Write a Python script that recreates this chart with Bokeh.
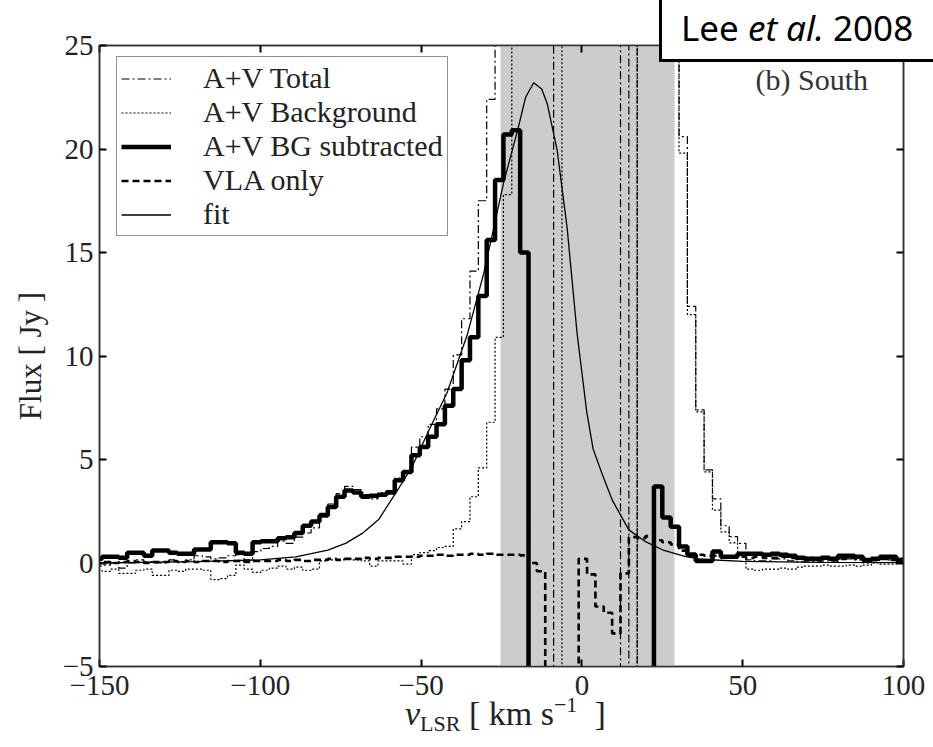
import numpy as np
from bokeh.plotting import figure
from bokeh.models import (Range1d, FixedTicker, LinearAxis, Label, BoxAnnotation,
                          Legend, LegendItem, GridBox, Div)
from bokeh.embed import file_html
from bokeh.resources import INLINE

# ---------------- data ----------------
# spectral channels: first channel left edge and channel width (km/s)
chan_first_edge = -151.8
chan_width = 2.6

# A+V BG subtracted (Jy); -30 marks masked channels that fall off the bottom
bg_subtracted = [
    0.2, 0.3, 0.3, 0.25, 0.5, 0.5, 0.35, 0.6, 0.6, 0.5,
    0.45, 0.45, 0.65, 0.65, 1.0, 1.0, 0.95, 0.5, 0.45, 1.0,
    1.05, 1.05, 1.2, 1.25, 1.45, 1.8, 2.0, 2.3, 2.7, 3.2,
    3.5, 3.4, 3.2, 3.25, 3.3, 3.4, 4.0, 4.4, 5.2, 5.6,
    6.1, 6.7, 7.6, 8.4, 9.8, 10.9, 12.9, 15.6, 18.5, 20.7,
    20.9, 15.0,
    -30, -30, -30, -30, -30, -30, -30, -30, -30, -30, -30, -30, -30, -30, -30,
    3.7, 2.2, 1.75, 0.8, 0.4, 0.1, 0.1, 0.55, 0.3, 0.3,
    0.45, 0.45, 0.45, 0.4, 0.45, 0.4, 0.35, 0.25, 0.2, 0.2,
    0.25, 0.2, 0.35, 0.35, 0.3, 0.15, 0.2, 0.3, 0.3, 0.15,
]

# A+V Background (Jy); +/-60 mark channels that run off the plot
background = [
    -0.35, -0.4, -0.3, -0.5, -0.5, -0.35, -0.3, -0.6, -0.6, -0.35,
    -0.4, -0.3, -0.3, -0.35, -0.8, -0.75, -0.6, -0.1, -0.3, -0.45,
    -0.35, -0.25, -0.15, -0.3, -0.2, -0.35, -0.3, 0.1, 0.15, 0.15,
    0.2, 0.15, 0.1, -0.15, 0.1, 0.1, 0.1, -0.05, 0.4, 0.5,
    0.6, 0.75, 0.8, 1.65, 2.0, 3.2, 4.6, 6.8, 10.9, 17.8,
    60, 60, 60, 60, 60, 60,
    -60, -60, -60, -60, -60, -60, -60, -60, -60,
    60, 60, 60, 60, 60,
    19.8, 12.0, 7.3, 4.4, 2.55, 1.5, 0.97, 0.5, -0.3, -0.35,
    -0.3, -0.3, -0.25, -0.3, -0.2, -0.15, -0.15, -0.1, -0.15, -0.15,
    -0.1, -0.15, -0.1, 0.0, -0.05, -0.05, 0.0,
]

# A+V Total (Jy)
total = [
    -0.15, -0.1, 0.0, -0.25, 0.0, 0.15, 0.05, 0.0, 0.0, 0.15,
    0.05, 0.15, 0.35, 0.3, 0.2, 0.25, 0.35, 0.4, 0.15, 0.55,
    0.7, 0.8, 1.05, 0.95, 1.25, 1.45, 1.7, 2.4, 2.85, 3.35,
    3.7, 3.55, 3.3, 3.1, 3.4, 3.5, 4.1, 4.35, 5.6, 6.1,
    6.7, 7.45, 8.4, 10.05, 11.8, 14.1, 17.5, 22.4,
    60, 60, 60, 60, 60, 60, 60,
    -60, -60, -60, -60, -60, -60, -60, -60,
    60, -60, 60, 60, 60, 60, 60,
    20.6, 12.4, 7.4, 4.5, 3.1, 1.8, 1.27, 0.95, 0.15, 0.1,
    0.1, 0.2, 0.2, 0.1, 0.05, 0.05, 0.05, 0.1, 0.05, 0.2,
    0.2, 0.15, 0.0, 0.1, 0.2, 0.15, 0.1,
]

# VLA only (Jy)
vla_only = [
    0.0, 0.05, 0.0, 0.05, 0.1, 0.05, 0.0, 0.05, 0.05, 0.1,
    0.05, 0.1, 0.05, 0.1, 0.1, 0.05, 0.1, 0.1, 0.05, 0.1,
    0.1, 0.1, 0.15, 0.1, 0.15, 0.1, 0.15, 0.15, 0.2, 0.15,
    0.2, 0.2, 0.25, 0.2, 0.25, 0.25, 0.3, 0.3, 0.3, 0.35,
    0.35, 0.4, 0.35, 0.4, 0.4, 0.45, 0.4, 0.45, 0.4, 0.4,
    0.4, 0.37,
    0.0, -0.4, -30, -30, -30, -30, 0.2, -0.55, -2.1, -2.4, -3.4, -0.5,
    1.25, 1.2, 1.3, 1.1, 1.0,
    0.9, 0.6, 0.45, 0.4, 0.35, 0.35, 0.3, 0.3, 0.3, 0.25,
    0.3, 0.25, 0.25, 0.3, 0.25, 0.2, 0.25, 0.2, 0.25, 0.2,
    0.2, 0.25, 0.2, 0.15, 0.2, 0.2, 0.15, 0.2,
]

# fit curve (km/s, Jy)
fit_v = [-150, -120, -100, -89, -79, -73.5, -68.3, -63.2, -58, -52.8,
         -47.6, -42, -35.7, -30.5, -24.3, -20, -17.5, -15, -12.5, -10.8,
         -7.7, -4.6, -1.5, 1.5, 3.5, 6.3, 9.4, 14.6, 19.8, 25,
         32, 37, 50, 75, 100]
fit_flux = [0.0, 0.07, 0.15, 0.3, 0.62, 0.95, 1.43, 2.1, 3.35, 4.65,
            6.4, 8.2, 11.0, 14.0, 18.4, 20.9, 22.5, 23.2, 22.9, 22.2,
            19.95, 16.2, 11.1, 7.3, 5.5, 4.3, 3.05, 1.6, 1.03, 0.64,
            0.32, 0.18, 0.08, 0.03, 0.02]

# shaded (masked) velocity range
shade_range = [-25.3, 28.8]

x_ticks = [-150, -100, -50, 0, 50, 100]
y_ticks = [-5, 0, 5, 10, 15, 20, 25]

# ---------------- main figure ----------------
SERIF = "Liberation Serif"
AX = "#333333"
W, H = 933, 747

p = figure(width=W, height=H, x_range=Range1d(-150, 100), y_range=Range1d(-5, 25),
           output_backend="svg", toolbar_location=None,
           min_border_left=99, min_border_right=30, min_border_top=45, min_border_bottom=81)
p.grid.visible = False
p.outline_line_color = AX
p.outline_line_width = 1.5
p.background_fill_color = "white"
p.border_fill_color = "white"

n = len(bg_subtracted)
edges = list(chan_first_edge + chan_width * np.arange(n + 1))

def ext(vals):
    return list(vals) + [vals[-1]]

p.add_layout(BoxAnnotation(left=shade_range[0], right=shade_range[1],
                           fill_color="#cccccc", fill_alpha=1.0, line_alpha=0,
                           level="underlay"))

r_tot = p.step(edges, ext(total), mode="after", line_color="black", line_width=1.2,
               line_dash="8 3 2 3")
r_bg = p.step(edges, ext(background), mode="after", line_color="black", line_width=1.2,
              line_dash="2 2")
r_vla = p.step(edges, ext(vla_only), mode="after", line_color="black", line_width=2.6,
               line_dash="7 4")
r_fit = p.line(fit_v, fit_flux, line_color="black", line_width=1.3)
r_sub = p.step(edges, ext(bg_subtracted), mode="after", line_color="black", line_width=4.5)

for ax in (p.xaxis[0], p.yaxis[0]):
    ax.axis_line_color = AX
    ax.axis_line_width = 1.5
    ax.major_tick_in = 7
    ax.major_tick_out = 0
    ax.major_tick_line_color = "black"
    ax.major_tick_line_width = 2
    ax.minor_tick_line_color = None
    ax.major_label_text_font = SERIF
    ax.major_label_text_font_size = "29px"
    ax.major_label_text_color = "#222222"

p.xaxis[0].ticker = FixedTicker(ticks=x_ticks)
p.yaxis[0].ticker = FixedTicker(ticks=y_ticks)
p.xaxis[0].major_label_standoff = 9
p.yaxis[0].major_label_standoff = 6

p.yaxis[0].axis_label = "Flux [ Jy ]"
p.yaxis[0].axis_label_text_font = SERIF
p.yaxis[0].axis_label_text_font_size = "31px"
p.yaxis[0].axis_label_text_font_style = "normal"
p.yaxis[0].axis_label_text_color = "#222222"
p.yaxis[0].axis_label_standoff = 12

top_ax = LinearAxis(ticker=FixedTicker(ticks=x_ticks),
                    major_label_overrides={t: "" for t in x_ticks})
right_ax = LinearAxis(ticker=FixedTicker(ticks=y_ticks),
                      major_label_overrides={t: "" for t in y_ticks})
for ax in (top_ax, right_ax):
    ax.axis_line_color = AX
    ax.axis_line_width = 1.5
    ax.major_tick_in = 7
    ax.major_tick_out = 0
    ax.major_tick_line_width = 2
    ax.minor_tick_line_color = None
    ax.major_label_standoff = 0
p.add_layout(top_ax, "above")
p.add_layout(right_ax, "right")

p.add_layout(Label(x=54, y=23.35, text="(b) South", text_font=SERIF,
                   text_font_size="30px", text_color="#333333", text_baseline="middle"))

legend = Legend(items=[LegendItem(label="A+V Total", renderers=[r_tot]),
                       LegendItem(label="A+V Background", renderers=[r_bg]),
                       LegendItem(label="A+V BG subtracted", renderers=[r_sub]),
                       LegendItem(label="VLA only", renderers=[r_vla]),
                       LegendItem(label="fit", renderers=[r_fit])],
                location=(17, 430))
legend.label_text_font = SERIF
legend.label_text_font_size = "30px"
legend.label_text_color = "#222222"
legend.label_standoff = 32
legend.glyph_width = 50
legend.glyph_height = 25
legend.label_height = 25
legend.spacing = 0
legend.padding = 4
legend.margin = 0
legend.border_line_color = "#222222"
legend.border_line_width = 1.5
legend.background_fill_alpha = 1.0
p.add_layout(legend)

# ---------------- texts outside the plot frame (HTML overlay in the same grid cell) ----------------
xlabel_html = (
    f'<span style="position:absolute;left:405px;top:694px;white-space:nowrap;'
    f'font-family:\'{SERIF}\';font-size:34px;line-height:1;color:#222222;">'
    '<i>v</i><span style="font-size:22px;vertical-align:-6px;">LSR</span>'
    ' [ km s<span style="font-size:22px;vertical-align:13px;">−1</span>&nbsp; ]</span>'
)
cite_html = (
    '<div style="position:absolute;left:659px;top:-10px;width:300px;height:72px;'
    'box-sizing:border-box;border:3px solid #000000;background:#ffffff;"></div>'
    '<span style="position:absolute;left:681px;top:10px;white-space:nowrap;'
    'font-family:\'Noto Sans\';font-size:35px;line-height:1;color:#000000;">'
    'Lee <i>et al.</i> 2008</span>'
)
overlay = Div(text=f'<div style="position:relative;width:{W}px;height:{H}px;'
                   f'overflow:hidden;pointer-events:none;">{xlabel_html}{cite_html}</div>',
              width=W, height=H, margin=0)

layout = GridBox(children=[(p, 0, 0), (overlay, 0, 0)])
open("out.html", "w").write(file_html(layout, INLINE))
